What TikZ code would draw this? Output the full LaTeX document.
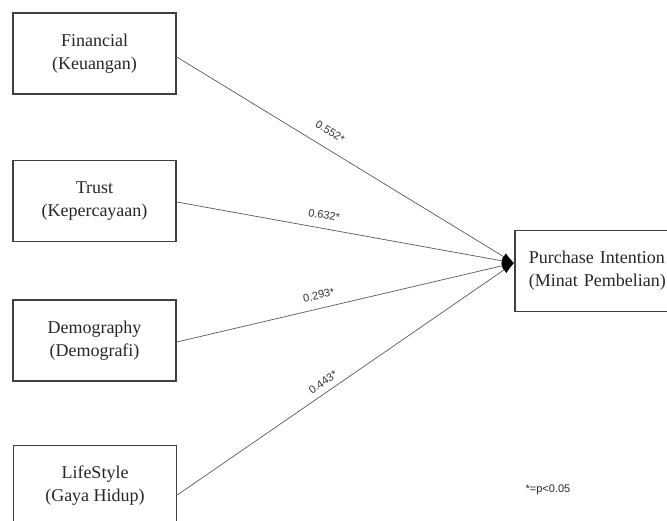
\documentclass[tikz,border=0pt]{standalone}
\usepackage{fontspec}
\setmainfont{Liberation Serif}
\newfontfamily\labsans{Liberation Sans}
\usetikzlibrary{arrows.meta,calc}
\begin{document}
\begin{tikzpicture}[x=1pt,y=-1pt,
  box/.style={draw=black!75, line width=1.6pt, minimum width=163pt, minimum height=81pt,
    align=center, inner sep=0pt, font=\fontsize{18}{23}\selectfont, text=black!85},
  conn/.style={draw=black!65, line width=0.7pt, -{Latex[length=12pt,width=8pt,color=black]}},
  lab/.style={font=\labsans\fontsize{11}{12}\selectfont, text=black!80, inner sep=1pt, sloped}]
\useasboundingbox (0,0) rectangle (667,520);
\clip (0,0) rectangle (667,520);
\node[box] (fin) at (94.5,53.5) {Financial\\(Keuangan)};
\node[box] (tru) at (94.5,201) {Trust\\(Kepercayaan)};
\node[box] (dem) at (94.5,340.5) {Demography\\(Demografi)};
\node[box] (lif) at (95,486) {LifeStyle\\(Gaya Hidup)};
\node[box, anchor=west, minimum width=0pt, text width=160pt, inner xsep=14pt, align=left] (pi) at (514,271) {Purchase Intention\\(Minat Pembelian)};
\coordinate (tip) at (514,263);
\draw[conn] ($(fin.east)+(0,3.5)$) -- node[lab, pos=0.43, above=11pt] {0.552*} (tip);
\draw[conn] ($(tru.east)+(0,1)$) -- node[lab, pos=0.43, above=8pt] {0.632*} (tip);
\draw[conn] ($(dem.east)+(0,1.5)$) -- node[lab, pos=0.43, above=8pt] {0.293*} (tip);
\draw[conn] ($(lif.east)+(0,9)$) -- node[lab, pos=0.45, above=5pt] {0.443*} (tip);
\node[font=\labsans\fontsize{11}{12}\selectfont, text=black!85, inner sep=0pt] (note) at (548,490) {*=p<0.05};
\end{tikzpicture}
\end{document}
